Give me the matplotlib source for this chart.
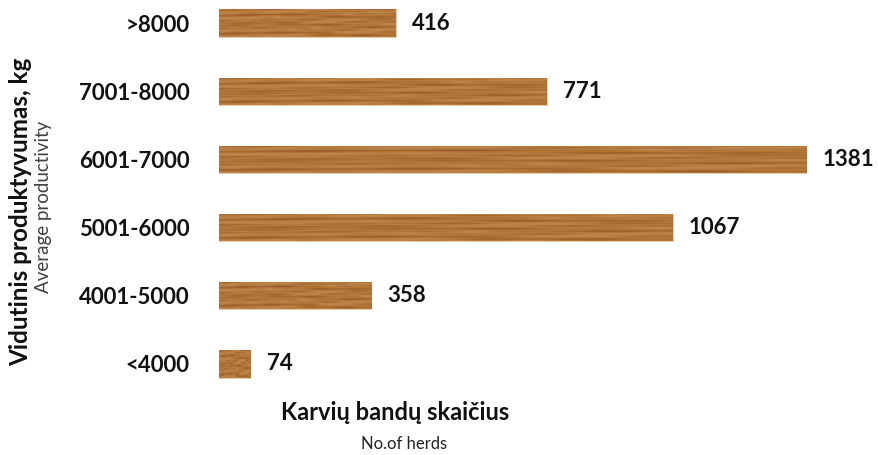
import numpy as np
import matplotlib.pyplot as plt
from matplotlib.colors import LinearSegmentedColormap

# duomenys
categories = ["<4000", "4001-5000", "5001-6000", "6001-7000", "7001-8000", ">8000"]
herds = [74, 358, 1067, 1381, 771, 416]

plt.rcParams['font.family'] = ['Lato', 'DejaVu Sans']

fig = plt.figure(figsize=(8.79, 4.55), dpi=100)
ax = fig.add_axes([219 / 879, 0.1253, 0.75, 0.869])

y = np.arange(len(categories))
bars = ax.barh(y, herds, height=0.4, color="#A8692F", edgecolor="#E6CDAE", linewidth=0.8)

# medienos tekstūra (tik stilius)
wood = LinearSegmentedColormap.from_list(
    "wood", ["#8E5424", "#A1632C", "#B07436", "#BF8649", "#A96B31", "#94592A"])
rows = np.linspace(0, 1, 40)[:, None]
cols = np.linspace(0, 1, 400)[None, :]
grain = (0.5 + 0.22 * np.sin(rows * 19 + 1.2 * np.sin(cols * 5))
         + 0.12 * np.sin(rows * 47 + cols * 6)
         + 0.06 * np.sin(cols * 25 + rows * 3))
for b in bars:
    x0, y0 = b.get_x(), b.get_y()
    im = ax.imshow(grain, cmap=wood, aspect="auto", vmin=0, vmax=1.0,
                   extent=[x0, x0 + b.get_width(), y0, y0 + b.get_height()],
                   interpolation="bilinear", zorder=2)
    im.set_clip_path(b)

for yi, v in zip(y, herds):
    ax.text(v + 38, yi, str(v), va="center", ha="left",
            fontsize=16, fontweight="bold", color="#111111")

ax.set_xlim(0, 1550)
ax.set_ylim(-0.5, 5.3)
ax.set_yticks(y)
ax.set_yticklabels(categories, fontsize=16, fontweight="bold", color="#111111")
ax.tick_params(axis="y", length=0, pad=21)
ax.set_xticks([])
for s in ax.spines.values():
    s.set_visible(False)

fig.text(395 / 879, 1 - 413 / 455, "Karvių bandų skaičius", ha="center", va="center",
         fontsize=17, fontweight="bold", color="#111111")
fig.text(404 / 879, 1 - 444 / 455, "No.of herds", ha="center", va="center",
         fontsize=12, color="#222222")
fig.text(21 / 879, 1 - 212 / 455, "Vidutinis produktyvumas, kg", rotation=90,
         ha="center", va="center", fontsize=17.5, fontweight="bold", color="#111111")
fig.text(44 / 879, 1 - 207 / 455, "Average productivity", rotation=90,
         ha="center", va="center", fontsize=13.5, color="#404040")

fig.savefig("out.png", dpi=100)
